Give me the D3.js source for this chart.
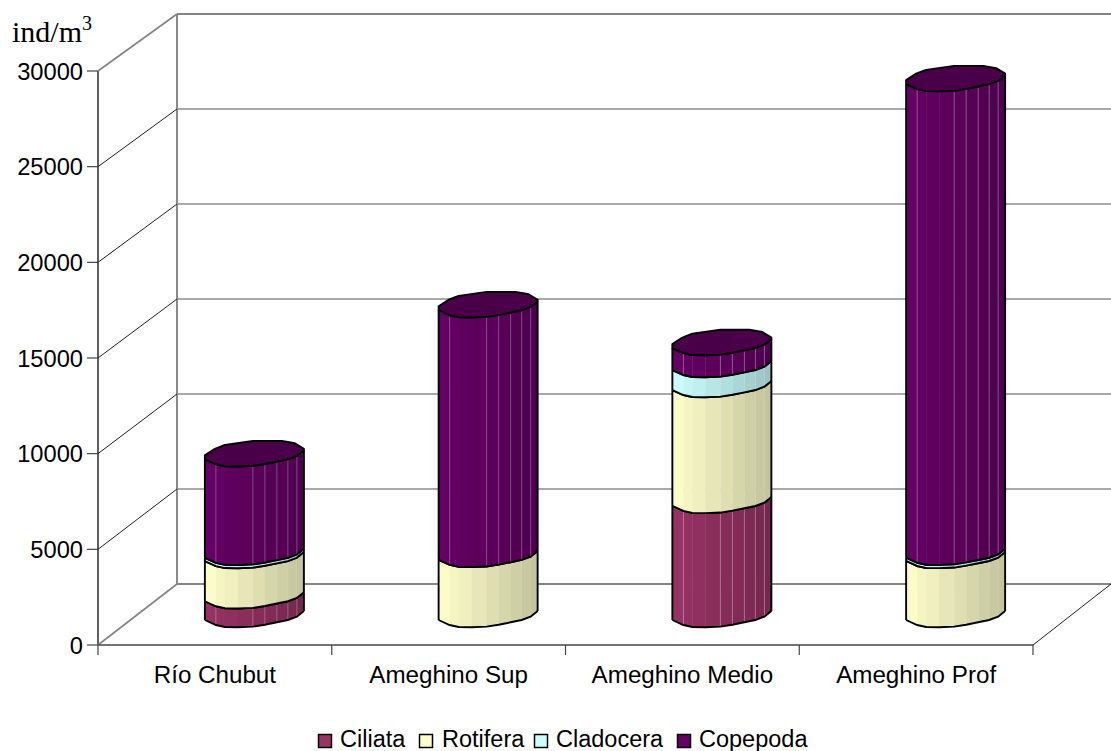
<!DOCTYPE html>
<html><head><meta charset="utf-8">
<script src="https://cdn.jsdelivr.net/npm/d3@7/dist/d3.min.js"></script>
<style>html,body{margin:0;padding:0;background:#fff}svg{display:block}text{font-family:"Liberation Sans",Arial,sans-serif;fill:#000}</style>
</head><body><svg id="c" width="1111" height="751"></svg>
<script>
const categories = ["Río Chubut","Ameghino Sup","Ameghino Medio","Ameghino Prof"];
const seriesNames = ["Ciliata","Rotifera","Cladocera","Copepoda"];
const seriesColors = ["#993366","#FFFFCC","#CCFFFF","#660066"];
const ciliata   = [980, 0, 5960, 0];
const rotifera  = [2100, 3140, 6060, 3085];
const cladocera = [170, 0, 1045, 170];
const copepoda  = [5150, 13050, 1150, 24750];
const yTicks = [0,5000,10000,15000,20000,25000,30000];

const seriesValues = [ciliata, rotifera, cladocera, copepoda];
const svg = d3.select("#c");
const y = d3.scaleLinear().domain([0,30000]).range([645,71]);
const yBack = d3.scaleLinear().domain([0,30000]).range([584,14]);
const x = d3.scaleBand().domain(categories).range([98,1033]);
const backX = 177, rightX = 1033, farX = 1111;
const gray = "#858585", dark = "#444";

const g = svg.append("g").attr("fill","none");
yTicks.forEach(t=>{
  const yf = y(t), yb = yBack(t), edge = t===30000||t===0;
  g.append("line").attr("x1",backX).attr("y1",yb).attr("x2",farX).attr("y2",yb)
    .attr("stroke",edge?gray:"#555").attr("stroke-width",edge?1.8:1.1);
  g.append("line").attr("x1",87).attr("x2",98).attr("y1",yf).attr("y2",yf).attr("stroke",dark).attr("stroke-width",1.2);
  svg.append("text").attr("x",83).attr("y",yf+8.5).attr("text-anchor","end").attr("font-size",23.7).text(t);
});
g.append("line").attr("x1",backX).attr("x2",backX).attr("y1",yBack(30000)).attr("y2",yBack(0)).attr("stroke",gray).attr("stroke-width",1.9);
g.append("line").attr("x1",98).attr("x2",98).attr("y1",y(30000)).attr("y2",y(0)).attr("stroke",dark).attr("stroke-width",1.7);
yTicks.forEach(t=>{
  const edge = t===30000||t===0;
  g.append("line").attr("x1",98).attr("y1",y(t)).attr("x2",backX).attr("y2",yBack(t))
    .attr("stroke",edge?gray:"#222").attr("stroke-width",edge?1.7:1);
});
g.append("line").attr("x1",98).attr("x2",rightX).attr("y1",y(0)).attr("y2",y(0)).attr("stroke",dark).attr("stroke-width",1.7);
g.append("line").attr("x1",rightX).attr("y1",y(0)).attr("x2",farX).attr("y2",yBack(0)).attr("stroke","#222").attr("stroke-width",1);
[...categories.map(c=>x(c)),rightX].forEach(px=>g.append("line").attr("x1",px).attr("x2",px).attr("y1",645).attr("y2",655).attr("stroke",dark).attr("stroke-width",1.2));
categories.forEach(c=>svg.append("text").attr("x",x(c)+x.bandwidth()/2).attr("y",683).attr("text-anchor","middle").attr("font-size",24.2).text(c));

const lab = svg.append("text").attr("x",12).attr("y",41.5).attr("font-size",30).style("font-family","'Liberation Serif',serif");
lab.append("tspan").text("ind/m");
lab.append("tspan").attr("dy",-12).attr("font-size",20).text("3");

// cylinder shape: offsets from the left vertex of a ring
const front = [[0,0],[11,5],[20,7],[33,7.2],[48,6.6],[60,4.7],[72,2.3],[83,0],[92,-3.3],[99,-9]];
const back  = [[99,-10.5],[90,-16],[77,-18.3],[48,-18.3],[20,-14.3],[10,-10.5],[0,-4]];
const shade = d3.scaleLinear().domain([0,99]).range([1,0.76]);
const lineGen = d3.line();
const sw = 1.9;

const bars = svg.append("g");
categories.forEach((c,i)=>{
  const left = x(c)+x.bandwidth()/2+(backX-98)/2-49.5;
  let cum = 0, lastTop = null;
  seriesValues.forEach((vals,s)=>{
    const v = vals[i]; if(!v) return;
    const yb = y(cum)-25, yt = y(cum+v)-25; cum += v;
    const base = d3.color(seriesColors[s]);
    const col = k=>d3.rgb(base.r*k,base.g*k,base.b*k).formatHex();
    for(let f=0;f<front.length-1;f++){
      const [u0,v0]=front[f],[u1,v1]=front[f+1];
      bars.append("polygon").attr("points",[[left+u0,yt+v0],[left+u1+.4,yt+v1],[left+u1+.4,yb+v1],[left+u0,yb+v0]].join(" "))
        .attr("fill",col(shade((u0+u1)/2)));
      if(f>0 && f!==2 && f!==3){
        bars.append("line").attr("x1",left+u0).attr("x2",left+u0).attr("y1",yt+v0).attr("y2",yb+v0)
          .attr("stroke","#fff").attr("stroke-opacity",s===1||s===2?.1:.28).attr("stroke-width",1);
      }
    }
    [yb,yt].forEach(yy=>bars.append("path").attr("d",lineGen(front.map(p=>[left+p[0],yy+p[1]]))).attr("fill","none").attr("stroke","#000").attr("stroke-width",sw));
    [0,front.length-1].forEach(k=>bars.append("line").attr("x1",left+front[k][0]).attr("x2",left+front[k][0])
      .attr("y1",yt+front[k][1]).attr("y2",yb+front[k][1]).attr("stroke","#000").attr("stroke-width",sw));
    lastTop = {yt,s};
  });
  const topPts = front.concat(back).map(p=>[left+p[0],lastTop.yt+p[1]]);
  const tc = d3.color(seriesColors[lastTop.s]);
  bars.append("polygon").attr("points",topPts.join(" "))
    .attr("fill",d3.rgb(tc.r*.72,tc.g*.72,tc.b*.72).formatHex())
    .attr("stroke","#000").attr("stroke-width",sw).attr("stroke-linejoin","round");
});

const legendSwatch = [318,419,534,677], legendText=[340,442,556,699];
seriesNames.forEach((n,i)=>{
  svg.append("rect").attr("x",legendSwatch[i]+.5).attr("y",734.5).attr("width",13).attr("height",13)
    .attr("fill",seriesColors[i]).attr("stroke","#000").attr("stroke-width",1.5);
  svg.append("text").attr("x",legendText[i]).attr("y",747).attr("font-size",23.5).text(n);
});
</script></body></html>
